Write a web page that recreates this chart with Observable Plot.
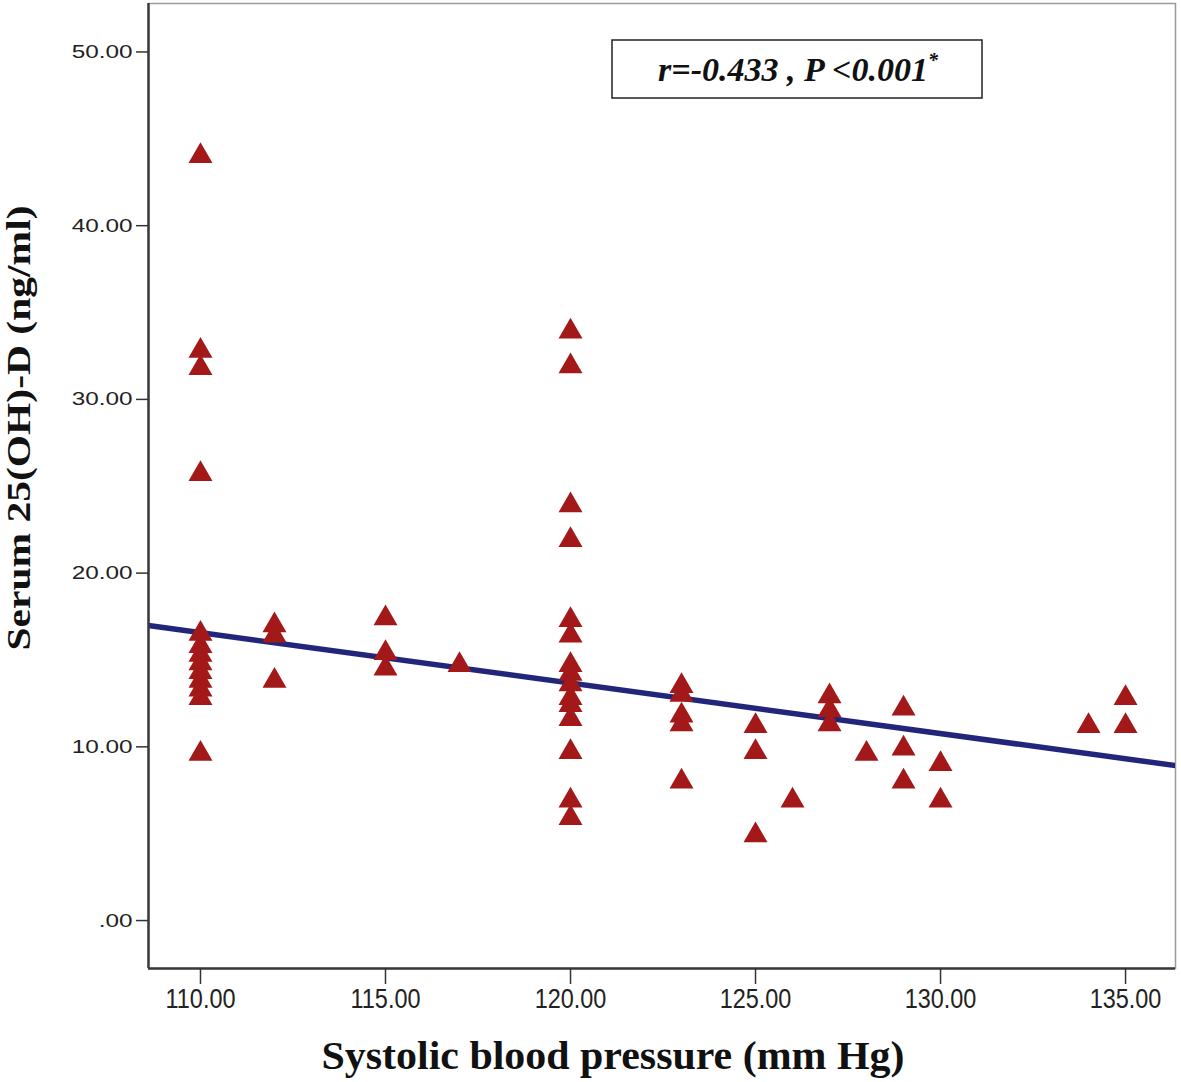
<!DOCTYPE html>
<html>
<head>
<meta charset="utf-8">
<script src="https://cdn.jsdelivr.net/npm/d3@7"></script>
<script src="https://cdn.jsdelivr.net/npm/@observablehq/plot@0.6"></script>
<style>
  html, body { margin: 0; padding: 0; background: #fff; }
  #chart { width: 1181px; height: 1082px; }
</style>
</head>
<body>
<div id="chart"></div>
<script>
// ---- Data ----
const systolic = [
  110, 110, 110, 110, 110, 110, 110, 110, 110, 110, 110, 110, 110,
  112, 112, 112,
  115, 115, 115,
  117,
  120, 120, 120, 120, 120, 120, 120, 120, 120, 120, 120, 120, 120, 120, 120,
  123, 123, 123, 123, 123,
  125, 125, 125,
  126,
  127, 127, 127,
  128,
  129, 129, 129,
  130, 130,
  134,
  135, 135
];
const vitaminD = [
  44.2, 33.0, 32.0, 25.9, 16.7, 16.0, 15.5, 15.0, 14.5, 14.0, 13.5, 13.0, 9.8,
  17.2, 16.6, 14.0,
  17.6, 15.6, 14.7,
  14.9,
  34.1, 32.1, 24.1, 22.1, 17.5, 16.6, 14.9, 14.4, 13.8, 13.0, 12.6, 11.8, 9.9, 7.1, 6.1,
  13.7, 13.2, 12.0, 11.5, 8.2,
  11.4, 9.9, 5.1,
  7.1,
  13.1, 12.3, 11.5,
  9.8,
  12.4, 10.1, 8.2,
  9.2, 7.1,
  11.4,
  13.0, 11.4
];
const xTicks = [110, 115, 120, 125, 130, 135];
const yTicks = [0, 10, 20, 30, 40, 50];
const xDomain = [108.595, 136.35];
const yDomain = [-2.76, 52.79];
const fitIntercept = [48.53];   // fitted line: y = a + b*x
const fitSlope = [-0.2905];
const xTitle = "Systolic blood pressure (mm Hg)";
const yTitle = "Serum 25(OH)-D (ng/ml)";
const statText = "r=-0.433 , P <0.001";
const statMark = "*";

// ---- Build tables ----
const points = systolic.map((x, i) => ({x, y: vitaminD[i]}));
const fitLine = xDomain.map(x => ({x, y: fitIntercept[0] + fitSlope[0] * x}));

// triangle centred on its bounding box (SPSS style)
const triangle = {
  draw(ctx, size) {
    const s = Math.sqrt(size / (3 * Math.sqrt(3)));
    const h = Math.sqrt(3) * s;
    ctx.moveTo(0, -1.5 * s);
    ctx.lineTo(h, 1.5 * s);
    ctx.lineTo(-h, 1.5 * s);
    ctx.closePath();
  }
};

const fmt = d => d === 0 ? ".00" : d.toFixed(2);

const plot = Plot.plot({
  width: 1181,
  height: 1082,
  marginLeft: 148,
  marginRight: 6,
  marginTop: 3,
  marginBottom: 114,
  style: {background: "#fff", color: "#222", fontFamily: "'Liberation Sans', Arial, sans-serif"},
  x: {domain: xDomain},
  y: {domain: yDomain},
  marks: [
    Plot.frame({stroke: "#9a9a9a", strokeWidth: 1.5}),
    Plot.line(fitLine, {x: "x", y: "y", stroke: "#22267a", strokeWidth: 5.5, clip: true}),
    Plot.dot(points, {x: "x", y: "y", symbol: triangle, r: 8.9, fill: "#a31818", stroke: "none"}),
    Plot.ruleX([xDomain[0]], {stroke: "#3a3a3a", strokeWidth: 2.5}),
    Plot.ruleY([yDomain[0]], {stroke: "#3a3a3a", strokeWidth: 2.5}),
    Plot.axisY({ticks: yTicks, tickFormat: fmt, tickSize: 12, tickPadding: 4, label: null,
                fontSize: 19, stroke: "#333", strokeWidth: 1.5}),
    Plot.axisX({ticks: xTicks, tickFormat: fmt, tickSize: 16, tickPadding: 4, label: null,
                fontSize: 23, stroke: "#333", strokeWidth: 1.5})
  ]
});

const svg = d3.select(plot);

// stretch tick labels to mimic the SPSS export
svg.selectAll('g[aria-label="y-axis tick label"] text').each(function() {
  const t = this.getAttribute("transform") || "";
  this.setAttribute("transform", t + " scale(1.28,1)");
});
svg.selectAll('g[aria-label="x-axis tick label"] text').each(function() {
  const t = this.getAttribute("transform") || "";
  this.setAttribute("transform", t + " scale(1.02,1.22)");
});

// axis titles
svg.append("text")
  .attr("x", 613).attr("y", 1069)
  .attr("text-anchor", "middle")
  .attr("font-family", "'Liberation Serif', 'Times New Roman', serif")
  .attr("font-weight", "bold")
  .attr("font-size", 41)
  .attr("textLength", 583)
  .attr("lengthAdjust", "spacingAndGlyphs")
  .attr("fill", "#111")
  .text(xTitle);

svg.append("text")
  .attr("transform", "translate(30,428) rotate(-90)")
  .attr("text-anchor", "middle")
  .attr("font-family", "'Liberation Serif', 'Times New Roman', serif")
  .attr("font-weight", "bold")
  .attr("font-size", 34)
  .attr("textLength", 445)
  .attr("lengthAdjust", "spacingAndGlyphs")
  .attr("fill", "#111")
  .text(yTitle);

// statistics box
svg.append("rect")
  .attr("x", 612).attr("y", 40).attr("width", 370).attr("height", 58)
  .attr("fill", "#fff").attr("stroke", "#222").attr("stroke-width", 1.5);
const st = svg.append("text")
  .attr("x", 798).attr("y", 81)
  .attr("text-anchor", "middle")
  .attr("font-family", "'Liberation Serif', 'Times New Roman', serif")
  .attr("font-weight", "bold")
  .attr("font-style", "italic")
  .attr("font-size", 34)
  .attr("fill", "#111");
st.append("tspan").text(statText);
st.append("tspan").attr("font-size", 20).attr("dy", -14).text(statMark);

document.getElementById("chart").appendChild(plot);
</script>
</body>
</html>
